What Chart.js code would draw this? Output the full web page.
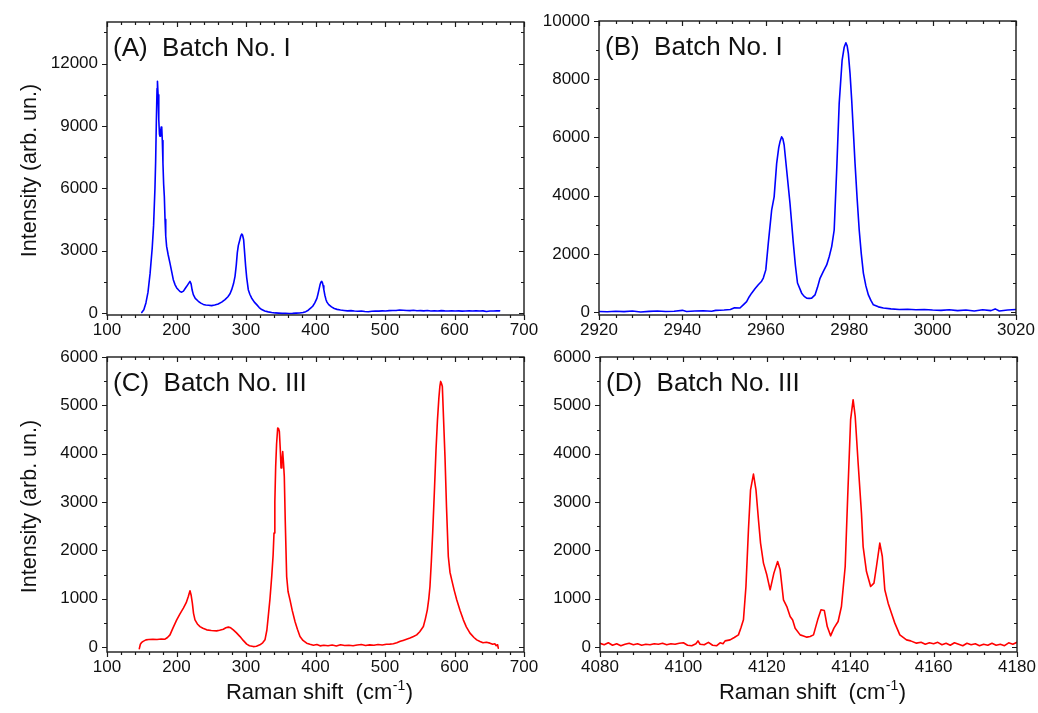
<!DOCTYPE html>
<html>
<head>
<meta charset="utf-8">
<title>Raman spectra</title>
<script src="https://cdn.jsdelivr.net/npm/chart.js@4.4.0/dist/chart.umd.min.js"></script>
<style>
  html, body { margin: 0; padding: 0; background: #fff; overflow: hidden; }
  #wrap { position: relative; width: 1038px; height: 713px; }
  #wrap canvas { position: absolute; left: 0; top: 0; }
</style>
</head>
<body>
<div id="wrap">
  <canvas id="pA" width="1038" height="713"></canvas>
  <canvas id="pB" width="1038" height="713"></canvas>
  <canvas id="pC" width="1038" height="713"></canvas>
  <canvas id="pD" width="1038" height="713"></canvas>
</div>
<script>
// Raman spectra, [shift (cm-1), intensity (arb. un.)]

// Batch No. I, low-wavenumber region
const batchI_low = [
  [150,20],[153,150],[156,480],[159,1000],[162,1900],[165,3100],[167,4200],[169,6000],[170,7300],
  [171,9200],[172,10800],[172.6,11150],[173.5,10500],[174.5,9300],[175.5,8600],[176.3,8500],
  [177,8700],[178,8950],[178.8,8900],[179.6,8300],[180.5,7200],[181.5,6200],[182.5,5600],
  [183.5,4500],[184.5,3700],[185.8,3200],[188,2800],[190.6,2400],[193,2000],[195.4,1600],
  [198,1350],[200.3,1200],[203,1100],[205,1030],[207.5,1000],[210,1050],[212,1150],[214.7,1280],
  [217,1400],[219.4,1520],[221,1400],[222.5,1100],[224.2,880],[227,700],[231.4,560],[235,470],
  [238.6,410],[242,380],[246,370],[250.6,350],[255,380],[260,430],[265,520],[269.8,640],
  [274,780],[277,920],[279.4,1120],[282,1400],[284.2,1760],[286,2300],[287.5,2900],[289,3250],
  [291,3500],[292.5,3700],[293.8,3800],[295,3750],[296.6,3520],[298,2900],[299.5,2240],
  [301,1700],[303.3,1120],[305.5,900],[308,720],[312,520],[315.4,400],[319,260],[322.6,160],
  [327,90],[332,50],[337,20],[342,0],[347,-10],[352,-20],[357,-15],[362,-25],[367,-20],
  [372,-10],[377,-5],[382,20],[386,60],[389.6,130],[393,230],[396,320],[399,480],[402,700],
  [403.5,900],[405,1120],[406.5,1350],[408,1500],[409,1520],[410,1450],[411,1300],[412,1120],
  [413.5,850],[415,650],[416.5,520],[419,400],[423,290],[427,210],[431,170],[436,140],
  [441,120],[446,100],[451,110],[456,90],[461,80],[466,95],[471,70],[476,60],[481,80],
  [486,90],[491,85],[496,100],[501,95],[506,110],[511,120],[516,115],[521,140],[526,130],
  [531,120],[536,110],[541,125],[546,105],[551,110],[556,100],[561,115],[566,95],[571,105],
  [576,90],[581,110],[586,100],[591,95],[596,105],[601,90],[606,100],[611,85],[616,95],
  [621,100],[626,90],[631,105],[636,95],[641,100],[646,70],[651,90],[656,95],[661,100],[665,100]
];

// Batch No. I, C-H stretching region
const batchI_high = [
  [2920,20],[2922,10],[2924,30],[2926,15],[2928,35],[2930,5],[2932,25],[2934,40],[2936,20],
  [2938,30],[2940,60],[2941,20],[2943,35],[2945,45],[2947,30],[2948,60],[2950,70],[2951.5,90],
  [2952.5,150],[2953.8,140],[2954.6,250],[2955.4,360],[2956,520],[2956.6,650],[2957.4,800],
  [2958.2,940],[2959,1060],[2959.4,1170],[2960,1450],[2960.6,2370],[2961.4,3500],[2962,3960],
  [2962.6,5100],[2963.1,5650],[2963.4,5850],[2963.8,6020],[2964.1,5950],[2964.4,5740],
  [2965,4880],[2965.8,3740],[2966.6,2370],[2967.1,1600],[2967.6,1000],[2968.6,650],
  [2969.2,540],[2969.8,480],[2970.4,470],[2971,480],[2971.8,590],[2972.4,850],[2973,1160],
  [2973.8,1400],[2974.6,1620],[2975.2,1900],[2975.8,2250],[2976.4,2820],[2977,4880],
  [2977.6,7170],[2978.3,8650],[2978.8,9100],[2979.2,9250],[2979.5,9150],[2979.8,8880],
  [2980.2,8200],[2980.6,7280],[2981,6200],[2981.4,5110],[2981.9,3900],[2982.4,2820],
  [2982.9,2000],[2983.4,1340],[2984,900],[2984.6,590],[2985.2,400],[2985.8,250],[2987,180],
  [2988.2,140],[2990,110],[2992,90],[2994,100],[2996,80],[2998,90],[3000,70],[3002,60],
  [3004,80],[3006,50],[3008,70],[3010,40],[3012,80],[3014,50],[3015,110],[3016,40],[3018,70],[3020,90]
];

// Batch No. III, low-wavenumber region
const batchIII_low = [
  [146.5,-30],[148,60],[150,100],[152,120],[156,150],[160,160],[166,165],[172,160],[178,170],
  [183.5,165],[187,200],[190.6,254],[195,400],[200.3,565],[205,690],[209.9,807],[214,920],
  [217,1047],[219.4,1165],[221,1080],[222.8,910],[224.5,700],[226.6,565],[230,480],[233.8,426],
  [238,390],[243.4,358],[250,345],[257.8,337],[262,350],[267.4,372],[271,400],[274.6,414],
  [278,400],[281.7,358],[286,300],[291.4,219],[296,140],[301,62],[305,30],[310.6,12],[315,20],
  [320,48],[324,90],[327.3,151],[330,350],[332,633],[334.5,1000],[337,1461],[339,1900],
  [340.3,2359],[341.5,3000],[342.7,3737],[344,4200],[345.6,4531],[346.8,4520],[348,4461],
  [349.3,4100],[350.4,3704],[351.6,3850],[352.8,4047],[354,3800],[355.1,3530],[356.5,2600],
  [358.5,1461],[360.5,1150],[363.3,979],[366.5,760],[370.5,530],[374,370],[377.7,219],
  [382,140],[387.3,83],[392,60],[397,40],[402,55],[406.5,27],[412,40],[418,30],[424,45],
  [430,25],[436,50],[442,35],[448,40],[454,30],[460,45],[466,55],[472,35],[478,48],[484,40],
  [490,55],[496,45],[502,60],[507,62],[512,70],[517,90],[522,120],[526,140],[531,165],
  [536,190],[541,220],[545.6,254],[550,320],[555.2,426],[558,580],[560.9,772],[563,1000],
  [564.7,1254],[566.6,1750],[568.6,2359],[571,3200],[573.4,4082],[575.5,4700],[577.5,5150],
  [579,5400],[580.1,5495],[581.3,5450],[582.5,5392],[584.3,4700],[586.3,3944],[588.5,2900],
  [591.1,1875],[593.5,1550],[596,1392],[599.5,1180],[603.2,979],[608,760],[612.7,565],
  [617,420],[622.3,290],[628,200],[632,150],[636.7,116],[641,90],[646,100],[651,83],[655,60],
  [658,70],[660,30],[662,50],[663,-20]
];

// Batch No. III, high-wavenumber region
const batchIII_high = [
  [4080,80],[4081,50],[4082,90],[4083,40],[4084,70],[4085,30],[4086,60],[4087,80],[4088,50],
  [4089,70],[4090,40],[4091,60],[4092,50],[4093,70],[4094,60],[4095,80],[4096,50],[4097,70],
  [4098,60],[4099,80],[4100,90],[4101,40],[4102,30],[4103,70],[4103.5,130],[4104,60],[4105,50],
  [4106,100],[4107,40],[4108,30],[4108.8,90],[4109.5,70],[4110,130],[4111.2,151],[4112.2,200],
  [4113.2,254],[4113.8,400],[4114.4,565],[4115,1254],[4115.6,2427],[4116.1,3254],[4116.8,3579],
  [4117.4,3254],[4118,2634],[4118.5,2152],[4119.2,1738],[4120,1496],[4120.8,1186],[4121.7,1531],
  [4122.6,1771],[4123.2,1599],[4124,979],[4124.8,840],[4125.6,633],[4126.2,560],[4126.8,393],
  [4128,254],[4128.8,230],[4129.6,207],[4130.4,220],[4131.2,254],[4132.2,565],[4133,772],
  [4133.8,757],[4134.5,426],[4135.3,234],[4136.1,393],[4137.1,530],[4137.9,840],[4138.8,1668],
  [4139.4,3116],[4140.1,4703],[4140.7,5117],[4141.2,4771],[4141.9,3807],[4142.7,2772],
  [4143.1,2081],[4143.9,1564],[4144.9,1254],[4145.7,1324],[4146.3,1668],[4147.1,2152],
  [4147.7,1875],[4148.3,1186],[4149.1,910],[4149.9,703],[4150.7,497],[4151.9,254],[4153.5,151],
  [4154.5,130],[4155.9,83],[4157,100],[4158,60],[4159,90],[4160,70],[4161,100],[4162,50],
  [4163,80],[4164,40],[4165,90],[4166,60],[4167,30],[4168,80],[4169,50],[4170,70],[4171,30],
  [4172,60],[4173,40],[4174,80],[4175,40],[4176,60],[4177,30],[4178,90],[4179,60],[4180,100]
];

// Tick labels
const ticksLowX  = [100, 200, 300, 400, 500, 600, 700];
const ticksB_X   = [2920, 2940, 2960, 2980, 3000, 3020];
const ticksD_X   = [4080, 4100, 4120, 4140, 4160, 4180];
const ticksA_Y   = [0, 3000, 6000, 9000, 12000];
const ticksB_Y   = [0, 2000, 4000, 6000, 8000, 10000];
const ticksCD_Y  = [0, 1000, 2000, 3000, 4000, 5000, 6000];

// Panel titles and axis titles
const panelLabels = ['(A)  Batch No. I', '(B)  Batch No. I', '(C)  Batch No. III', '(D)  Batch No. III'];
const yTitle = 'Intensity (arb. un.)';
const xTitle = ['Raman shift  (cm', '-1', ')'];

const W = 1038, H = 713;
const FONT = "'Liberation Sans', Arial, Helvetica, sans-serif";
const INK = '#111';

// Frame with Origin-style ticks: out on left/bottom, in on top/right; plus panel text
const framePlugin = {
  id: 'frame',
  afterDraw(chart, args, o) {
    const { ctx, chartArea: a } = chart;
    const xs = chart.scales.x, ys = chart.scales.y;
    ctx.save();
    ctx.strokeStyle = '#1a1a1a';
    ctx.lineWidth = 1.4;
    ctx.strokeRect(a.left, a.top, a.right - a.left, a.bottom - a.top);
    ctx.lineWidth = 1.2;
    ctx.beginPath();
    const k0x = Math.ceil((xs.min - o.xBase) / o.xMinor - 1e-9);
    const k1x = Math.floor((xs.max - o.xBase) / o.xMinor + 1e-9);
    for (let k = k0x; k <= k1x; k++) {
      const px = Math.round(xs.getPixelForValue(o.xBase + k * o.xMinor)) + 0.5;
      const len = (k % o.perMajorX === 0) ? 5 : 3;
      ctx.moveTo(px, a.bottom); ctx.lineTo(px, a.bottom + len);
      ctx.moveTo(px, a.top); ctx.lineTo(px, a.top + len);
    }
    const k0 = Math.ceil(ys.min / o.yMinor - 1e-9), k1 = Math.floor(ys.max / o.yMinor + 1e-9);
    for (let k = k0; k <= k1; k++) {
      const py = Math.round(ys.getPixelForValue(k * o.yMinor)) + 0.5;
      const len = (k % o.perMajorY === 0) ? 5 : 3;
      ctx.moveTo(a.left - len, py); ctx.lineTo(a.left, py);
      ctx.moveTo(a.right - len, py); ctx.lineTo(a.right, py);
    }
    ctx.stroke();

    ctx.fillStyle = INK;
    ctx.textBaseline = 'alphabetic';
    ctx.textAlign = 'left';
    ctx.font = '26px ' + FONT;
    ctx.fillText(o.label, a.left + 6, a.top + 34);

    if (o.yTitle) {
      ctx.save();
      ctx.translate(36, (a.top + a.bottom) / 2 + 2);
      ctx.rotate(-Math.PI / 2);
      ctx.textAlign = 'center';
      ctx.font = '21.5px ' + FONT;
      ctx.fillText(yTitle, 0, 0);
      ctx.restore();
    }
    if (o.xTitle) {
      const big = '22px ' + FONT, small = '14px ' + FONT;
      ctx.font = big; const w1 = ctx.measureText(xTitle[0]).width, w3 = ctx.measureText(xTitle[2]).width;
      ctx.font = small; const w2 = ctx.measureText(xTitle[1]).width + 1;
      let x0 = (a.left + a.right) / 2 + 4 - (w1 + w2 + w3) / 2;
      const yb = 699;
      ctx.font = big; ctx.fillText(xTitle[0], x0, yb);
      ctx.font = small; ctx.fillText(xTitle[1], x0 + w1 + 0.5, yb - 9);
      ctx.font = big; ctx.fillText(xTitle[2], x0 + w1 + w2, yb);
    }
    ctx.restore();
  }
};

function makePanel(id, points, color, xr, yr, xTicks, yTicks, box, frameOpts) {
  const xh = 30;
  return new Chart(document.getElementById(id), {
    type: 'line',
    data: {
      datasets: [{
        data: points.map(p => ({ x: p[0], y: p[1] })),
        borderColor: color,
        borderWidth: 1.6,
        borderJoinStyle: 'round',
        borderCapStyle: 'round',
        pointRadius: 0,
        tension: 0,
        fill: false
      }]
    },
    options: {
      responsive: false,
      animation: false,
      devicePixelRatio: 1,
      events: [],
      layout: { padding: { left: 0, top: box.top, right: W - box.right, bottom: H - box.bottom - xh } },
      plugins: { legend: { display: false }, tooltip: { enabled: false }, frame: frameOpts },
      scales: {
        x: {
          type: 'linear', min: xr[0], max: xr[1],
          grid: { display: false, drawTicks: false }, border: { display: false },
          afterBuildTicks: s => { s.ticks = xTicks.map(v => ({ value: v })); },
          afterFit: s => { s.height = xh; s.paddingLeft = 0; s.paddingRight = 0; },
          ticks: { autoSkip: false, maxRotation: 0, padding: 5, color: INK,
                   font: { family: FONT, size: 17 }, callback: v => String(v) }
        },
        y: {
          type: 'linear', min: yr[0], max: yr[1],
          grid: { display: false, drawTicks: false }, border: { display: false },
          afterBuildTicks: s => { s.ticks = yTicks.map(v => ({ value: v })); },
          afterFit: s => { s.width = box.left; s.paddingTop = 0; s.paddingBottom = 0; },
          ticks: { autoSkip: false, padding: 9, color: INK,
                   font: { family: FONT, size: 17 }, callback: v => String(v) }
        }
      }
    },
    plugins: [framePlugin]
  });
}

makePanel('pA', batchI_low, '#0000ff', [100, 700], [-100, 14000], ticksLowX, ticksA_Y,
  { left: 107, top: 22, right: 524, bottom: 315 },
  { label: panelLabels[0], xBase: 100, xMinor: 20, perMajorX: 5, yMinor: 1500, perMajorY: 2, yTitle: true, xTitle: false });

makePanel('pB', batchI_high, '#0000ff', [2920, 3020], [-100, 10000], ticksB_X, ticksB_Y,
  { left: 599, top: 21, right: 1016, bottom: 315 },
  { label: panelLabels[1], xBase: 2920, xMinor: 4, perMajorX: 5, yMinor: 1000, perMajorY: 2, yTitle: false, xTitle: false });

makePanel('pC', batchIII_low, '#ff0000', [100, 700], [-100, 6000], ticksLowX, ticksCD_Y,
  { left: 107, top: 357, right: 524, bottom: 652 },
  { label: panelLabels[2], xBase: 100, xMinor: 20, perMajorX: 5, yMinor: 500, perMajorY: 2, yTitle: true, xTitle: true });

makePanel('pD', batchIII_high, '#ff0000', [4080, 4180], [-100, 6000], ticksD_X, ticksCD_Y,
  { left: 600, top: 357, right: 1017, bottom: 652 },
  { label: panelLabels[3], xBase: 4080, xMinor: 4, perMajorX: 5, yMinor: 500, perMajorY: 2, yTitle: false, xTitle: true });
</script>
</body>
</html>
